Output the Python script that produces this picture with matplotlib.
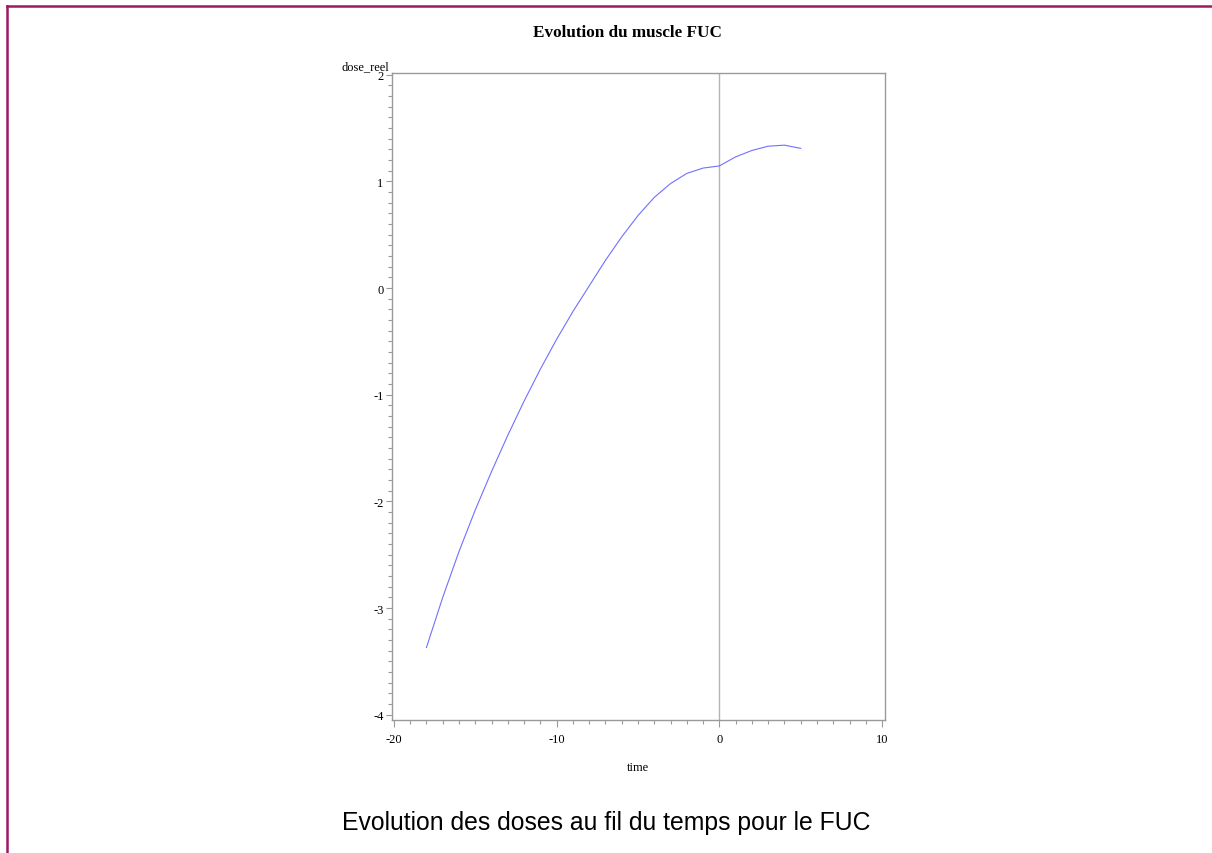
import matplotlib
matplotlib.use("Agg")
import matplotlib.pyplot as plt
from matplotlib.lines import Line2D
from matplotlib.ticker import MultipleLocator

plt.rcParams["axes.unicode_minus"] = False

# Estimated dose per time point
time = [-18, -17, -16, -15, -14, -13, -12, -11, -10, -9, -8, -7, -6,
        -5, -4, -3, -2, -1, 0, 1, 2, 3, 4, 5]
dose_reel = [-3.37, -2.90, -2.47, -2.08, -1.72, -1.38, -1.06, -0.76, -0.48,
             -0.22, 0.02, 0.26, 0.48, 0.68, 0.85, 0.98, 1.075, 1.125, 1.145,
             1.23, 1.29, 1.33, 1.34, 1.31]

x_ticks = [-20, -10, 0, 10]
y_ticks = [-4, -3, -2, -1, 0, 1, 2]

title = "Evolution du muscle FUC"
caption = "Evolution des doses au fil du temps pour le FUC"

serif = ["Liberation Serif", "DejaVu Serif"]
frame_grey = "#9a9a9a"

fig = plt.figure(figsize=(12.12, 8.54), dpi=100)
ax = fig.add_axes([0.3234, 0.1557, 0.4068, 0.7576])

ax.plot(time, dose_reel, color="#7070ff", lw=0.8)
ax.axvline(0, color="#b4b4b4", lw=1.0, zorder=0)

ax.set_xlim(-20.12, 10.18)
ax.set_ylim(-4.05, 2.016)
ax.set_xticks(x_ticks)
ax.set_yticks(y_ticks)
ax.xaxis.set_minor_locator(MultipleLocator(1))
ax.yaxis.set_minor_locator(MultipleLocator(0.1))
ax.tick_params(which="both", direction="out", width=0.8,
               color=frame_grey, labelsize=9)
ax.tick_params(axis="y", which="major", length=4, pad=2)
ax.tick_params(axis="y", which="minor", length=3)
ax.tick_params(axis="x", which="major", length=5, pad=4)
ax.tick_params(axis="x", which="minor", length=3)
for lab in ax.get_xticklabels() + ax.get_yticklabels():
    lab.set_family(serif)
for sp in ax.spines.values():
    sp.set_color(frame_grey)
    sp.set_linewidth(1.0)

fig.text(0.518, 0.961, title, ha="center", va="center",
         family=serif, fontweight="bold", fontsize=12.3)
fig.text(0.3016, 0.921, "dose_reel", ha="center", va="center",
         family=serif, fontsize=9)
fig.text(0.5265, 0.1007, "time", ha="center", va="center",
         family=serif, fontsize=9)
fig.text(0.5, 0.036, caption, ha="center", va="center",
         family=["Liberation Sans", "DejaVu Sans"], fontsize=17.8)

# Page border lines
border = "#9b1b62"
fig.add_artist(Line2D([6.5 / 1212, 1.0], [1 - 6.5 / 854] * 2,
                      color=border, lw=1.8, transform=fig.transFigure))
fig.add_artist(Line2D([6.5 / 1212] * 2, [0.0, 1 - 6.5 / 854],
                      color=border, lw=1.8, transform=fig.transFigure))

fig.savefig("out.png", dpi=100, facecolor="white")
